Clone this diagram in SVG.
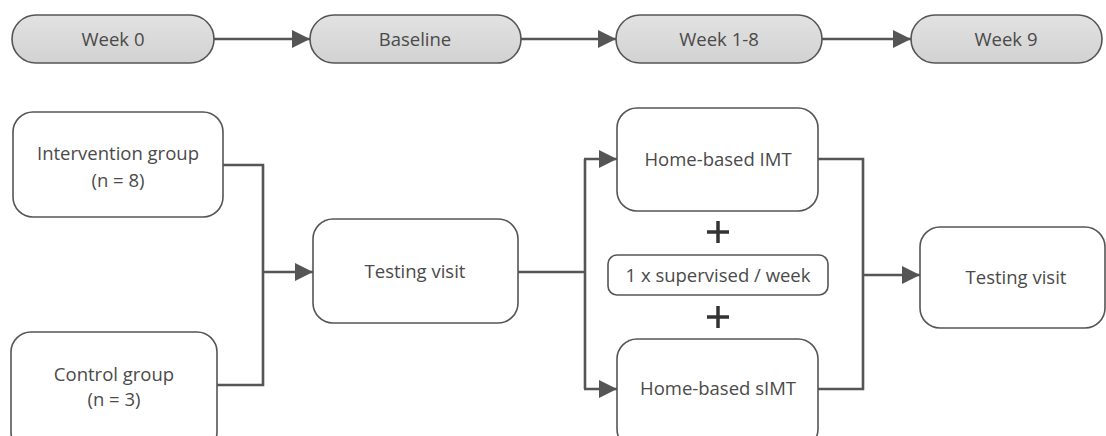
<svg xmlns="http://www.w3.org/2000/svg" width="1106" height="436" viewBox="0 0 1106 436">
<style>
.pill{fill:url(#g);stroke:#555;stroke-width:1.6}
.box{fill:#fff;stroke:#555;stroke-width:1.6}
.t{font-family:"Open Sans","Liberation Sans",sans-serif;font-size:18.5px;fill:#4a4a4a;text-anchor:middle}
.c{fill:none;stroke:#555;stroke-width:2.6}
.plus{stroke:#333;stroke-width:3.5}
</style>
<defs>
<linearGradient id="g" x1="0" y1="0" x2="0" y2="1">
<stop offset="0" stop-color="#e2e2e2"/>
<stop offset="1" stop-color="#d2d2d2"/>
</linearGradient>
<marker id="a" markerWidth="18" markerHeight="18" refX="18" refY="9" viewBox="0 0 18 18" markerUnits="userSpaceOnUse" orient="auto">
<path d="M0,0 L18,9 L0,18 Z" fill="#555"/>
</marker>
</defs>
<g id="week0"><rect class="pill" x="12" y="15" width="202" height="48" rx="24"/><text class="t" x="113" y="46">Week 0</text></g>
<g id="baseline"><rect class="pill" x="310" y="15" width="211" height="48" rx="24"/><text class="t" x="415" y="46">Baseline</text></g>
<g id="week18"><rect class="pill" x="616" y="15" width="206" height="48" rx="24"/><text class="t" x="719" y="46">Week 1-8</text></g>
<g id="week9"><rect class="pill" x="911" y="15" width="191" height="48" rx="24"/><text class="t" x="1006" y="46">Week 9</text></g>
<g id="intervention"><rect class="box" x="13" y="112" width="210" height="105" rx="20"/><text class="t" x="118" y="160">Intervention group</text><text class="t" x="118" y="187">(n = 8)</text></g>
<g id="control"><rect class="box" x="11" y="332" width="206" height="120" rx="20"/><text class="t" x="114" y="381">Control group</text><text class="t" x="114" y="406">(n = 3)</text></g>
<g id="testing1"><rect class="box" x="313" y="219" width="205" height="104" rx="20"/><text class="t" x="415" y="278">Testing visit</text></g>
<g id="imt"><rect class="box" x="617" y="108" width="201" height="103" rx="20"/><text class="t" x="718" y="166">Home-based IMT</text></g>
<g id="supervised"><rect class="box" x="608" y="255" width="220" height="40" rx="9"/><text class="t" x="718" y="282">1 x supervised / week</text></g>
<g id="simt"><rect class="box" x="617" y="339" width="201" height="110" rx="20"/><text class="t" x="718" y="395">Home-based sIMT</text></g>
<g id="testing2"><rect class="box" x="920" y="227" width="185" height="101" rx="20"/><text class="t" x="1016" y="284">Testing visit</text></g>
<g id="plus1"><line class="plus" x1="707" y1="232" x2="729" y2="232"/><line class="plus" x1="718" y1="221" x2="718" y2="243"/></g>
<g id="plus2"><line class="plus" x1="707" y1="317" x2="729" y2="317"/><line class="plus" x1="718" y1="306" x2="718" y2="328"/></g>
<g id="connectors">
<line class="c" x1="214" y1="39" x2="310" y2="39" marker-end="url(#a)"/>
<line class="c" x1="521" y1="39" x2="616" y2="39" marker-end="url(#a)"/>
<line class="c" x1="822" y1="39" x2="911" y2="39" marker-end="url(#a)"/>
<polyline class="c" points="223,165 263,165 263,385 217,385"/>
<line class="c" x1="263" y1="272" x2="313" y2="272" marker-end="url(#a)"/>
<line class="c" x1="518" y1="272" x2="585" y2="272"/>
<line class="c" x1="585" y1="159" x2="585" y2="389"/>
<line class="c" x1="584" y1="159" x2="617" y2="159" marker-end="url(#a)"/>
<line class="c" x1="584" y1="389" x2="617" y2="389" marker-end="url(#a)"/>
<polyline class="c" points="818,159 863,159 863,389 818,389"/>
<line class="c" x1="863" y1="275" x2="920" y2="275" marker-end="url(#a)"/>
</g>
</svg>
